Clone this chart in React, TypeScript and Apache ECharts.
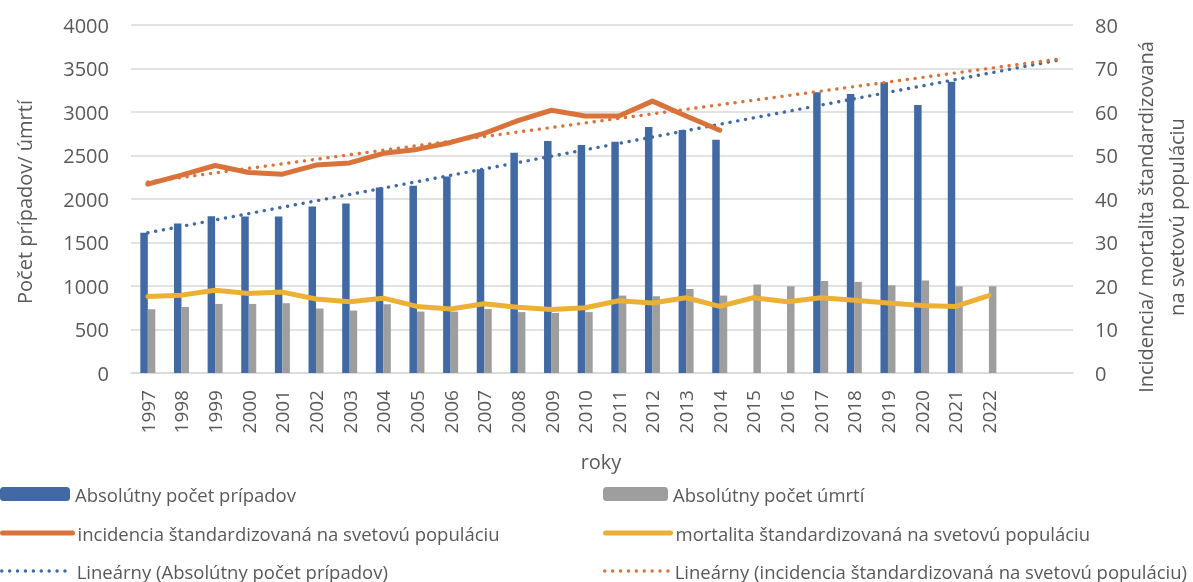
import React, { useEffect, useRef } from "react";
import * as echarts from "echarts";

const years = ["1997","1998","1999","2000","2001","2002","2003","2004","2005","2006","2007","2008","2009","2010","2011","2012","2013","2014","2015","2016","2017","2018","2019","2020","2021","2022","",""];

const cases = [1611,1719,1803,1799,1799,1914,1949,2133,2151,2259,2343,2531,2666,2620,2657,2827,2792,2681,null,null,3226,3206,3341,3080,3348,null];
const deaths = [733,759,794,794,802,741,718,790,706,706,735,700,690,700,890,882,966,890,1017,997,1058,1047,1009,1063,997,997];
const incidence = [43.4,45.5,47.7,46.1,45.7,47.8,48.3,50.5,51.4,53.0,55.1,58.0,60.4,59.1,59.1,62.5,59.1,55.8];
const mortality = [17.6,17.9,19.0,18.3,18.6,17.0,16.4,17.2,15.3,14.7,15.9,15.1,14.6,15.0,16.6,16.1,17.3,15.3,17.3,16.4,17.3,16.7,16.1,15.5,15.3,17.8];
// linear trendline end values (first category, last forecast category)
const trendCases = [1612, 3592];
const trendIncidence = [43.9, 72.1];

const leftTicks = { min: 0, max: 4000, interval: 500 };
const rightTicks = { min: 0, max: 80, interval: 10 };

const names = {
  cases: "Absolútny počet prípadov",
  deaths: "Absolútny počet úmrtí",
  inc: "incidencia štandardizovaná na svetovú populáciu",
  mort: "mortalita štandardizovaná na svetovú populáciu",
  trCases: "Lineárny (Absolútny počet prípadov)",
  trInc: "Lineárny (incidencia štandardizovaná na svetovú populáciu)",
};

const C = {
  blue: "#4169A4",
  gray: "#9E9E9E",
  orange: "#D9733A",
  yellow: "#EBB035",
  text: "#595959",
  grid: "#D9D9D9",
};

const FONT = "'Open Sans', sans-serif";

function trendData(ends: number[]) {
  return years.map((_, i) => (i === 0 ? ends[0] : i === years.length - 1 ? ends[1] : null));
}

export default function App() {
  const ref = useRef<HTMLDivElement>(null);
  useEffect(() => {
    const chart = echarts.init(ref.current!, null, { renderer: "svg" });
    const dot = [0.1, 7.8];
    const legendBase = {
      itemGap: 0,
      padding: 0,
      textStyle: { color: C.text, fontSize: 18.5, lineHeight: 19, fontFamily: FONT },
      selectedMode: false,
    };
    const solidLeg = { itemStyle: { opacity: 0 }, lineStyle: { width: 5, cap: "round" } };
    const dotLeg = { itemStyle: { opacity: 0 }, lineStyle: { width: 3.4, type: dot, cap: "round" } };
    const plain = (v: number) => String(v);
    chart.setOption({
      animation: false,
      textStyle: { fontFamily: FONT },
      grid: { left: 131, right: 120, top: 25, bottom: 209 },
      xAxis: {
        type: "category",
        data: years,
        boundaryGap: true,
        axisTick: { show: false },
        axisLine: { lineStyle: { color: C.grid, width: 1.5 } },
        axisLabel: { rotate: 90, color: C.text, fontSize: 19, margin: 17, interval: 0, fontFamily: FONT },
      },
      yAxis: [
        {
          type: "value",
          ...leftTicks,
          axisLabel: { color: C.text, fontSize: 20, margin: 22, fontFamily: FONT, formatter: plain },
          splitLine: { lineStyle: { color: C.grid, width: 1.5 } },
          axisLine: { show: false },
          axisTick: { show: false },
        },
        {
          type: "value",
          ...rightTicks,
          position: "right",
          axisLabel: { color: C.text, fontSize: 20, margin: 22, fontFamily: FONT, formatter: plain },
          splitLine: { show: false },
          axisLine: { show: false },
          axisTick: { show: false },
        },
      ],
      legend: [
        { ...legendBase, left: 0, top: 484.5, itemWidth: 70, itemHeight: 14, data: [names.cases] },
        { ...legendBase, left: 603, top: 484.5, itemWidth: 65, itemHeight: 14, data: [names.deaths] },
        { ...legendBase, ...solidLeg, left: 0, top: 523.5, itemWidth: 70, itemHeight: 14, data: [names.inc] },
        { ...legendBase, ...solidLeg, left: 603, top: 523.5, itemWidth: 65, itemHeight: 14, data: [names.mort] },
        { ...legendBase, ...dotLeg, left: 0, top: 561.5, itemWidth: 70, itemHeight: 14, data: [names.trCases] },
        { ...legendBase, ...dotLeg, left: 603, top: 561.5, itemWidth: 65, itemHeight: 14, data: [names.trInc] },
      ],
      graphic: [
        {
          type: "text",
          x: 24,
          y: 202,
          rotation: Math.PI / 2,
          style: { text: "Počet prípadov/ úmrtí", fill: C.text, fontSize: 20, fontFamily: FONT, align: "center", verticalAlign: "middle" },
        },
        {
          type: "text",
          x: 1145,
          y: 217,
          rotation: Math.PI / 2,
          style: { text: "Incidencia/ mortalita štandardizovaná", fill: C.text, fontSize: 20, fontFamily: FONT, align: "center", verticalAlign: "middle" },
        },
        {
          type: "text",
          x: 1176,
          y: 217,
          rotation: Math.PI / 2,
          style: { text: "na svetovú populáciu", fill: C.text, fontSize: 20, fontFamily: FONT, align: "center", verticalAlign: "middle" },
        },
        {
          type: "text",
          x: 601,
          y: 461,
          style: { text: "roky", fill: C.text, fontSize: 20, fontFamily: FONT, align: "center", verticalAlign: "middle" },
        },
      ],
      series: [
        { name: names.cases, type: "bar", data: cases, barWidth: 7.5, barGap: "0%", itemStyle: { color: C.blue }, yAxisIndex: 0 },
        { name: names.deaths, type: "bar", data: deaths, barWidth: 7.5, barGap: "0%", itemStyle: { color: C.gray }, yAxisIndex: 0 },
        {
          name: names.trCases, type: "line", data: trendData(trendCases), connectNulls: true, yAxisIndex: 0,
          symbol: "none", showSymbol: false, z: 3,
          lineStyle: { color: C.blue, width: 3.4, type: dot, cap: "round" }, itemStyle: { color: C.blue },
        },
        {
          name: names.trInc, type: "line", data: trendData(trendIncidence), connectNulls: true, yAxisIndex: 1,
          symbol: "none", showSymbol: false, z: 3,
          lineStyle: { color: C.orange, width: 3.4, type: dot, cap: "round" }, itemStyle: { color: C.orange },
        },
        {
          name: names.inc, type: "line", data: incidence, yAxisIndex: 1, symbol: "none", showSymbol: false, z: 4,
          lineStyle: { color: C.orange, width: 5, cap: "round", join: "round" }, itemStyle: { color: C.orange },
        },
        {
          name: names.mort, type: "line", data: mortality, yAxisIndex: 1, symbol: "none", showSymbol: false, z: 4,
          lineStyle: { color: C.yellow, width: 5, cap: "round", join: "round" }, itemStyle: { color: C.yellow },
        },
      ],
    });
    return () => chart.dispose();
  }, []);
  return <div ref={ref} style={{ position: "fixed", left: 0, top: 0, width: 1193, height: 582 }} />;
}
